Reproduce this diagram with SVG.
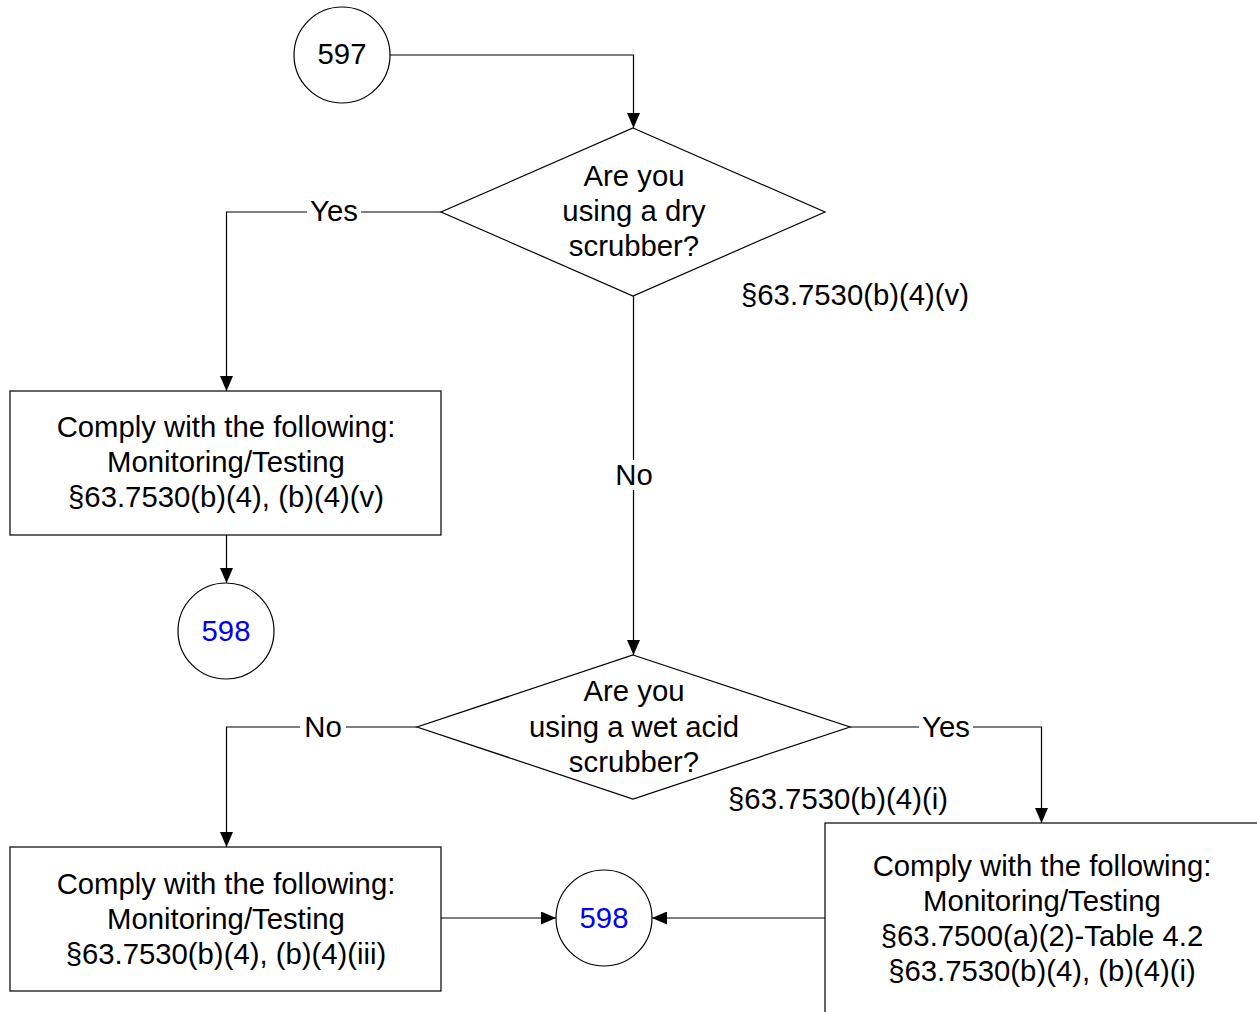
<svg xmlns="http://www.w3.org/2000/svg" width="1257" height="1012" viewBox="0 0 1257 1012">
<defs>
<style>
text{font-family:"Liberation Sans",Arial,sans-serif;font-size:29.3px;fill:#000;text-anchor:middle}
.ref{fill:#0000ff}
.shape{fill:#fff;stroke:#000;stroke-width:1.2}
.conn{fill:none;stroke:#000;stroke-width:1.2}
.lbg{fill:#fff;stroke:none}
</style>
<marker id="arr" viewBox="0 0 15 13" refX="15" refY="6.5" markerWidth="15" markerHeight="13" markerUnits="userSpaceOnUse" orient="auto">
<path d="M0,0 L15,6.5 L0,13 Z" fill="#000"/>
</marker>
</defs>
<rect width="1257" height="1012" fill="#fff"/>
<g id="connectors">
<path class="conn" d="M390,55 H633.5 V128" marker-end="url(#arr)"/>
<path class="conn" d="M441,212 H226.5 V391" marker-end="url(#arr)"/>
<path class="conn" d="M633.5,296 V655" marker-end="url(#arr)"/>
<path class="conn" d="M226.5,535 V583" marker-end="url(#arr)"/>
<path class="conn" d="M417,727 H226.5 V847" marker-end="url(#arr)"/>
<path class="conn" d="M850,727 H1041.5 V823" marker-end="url(#arr)"/>
<path class="conn" d="M441,918 H556" marker-end="url(#arr)"/>
<path class="conn" d="M825,918 H652" marker-end="url(#arr)"/>
<rect class="lbg" x="307" y="198" width="54" height="28"/>
<text x="334" y="221">Yes</text>
<rect class="lbg" x="611" y="460" width="46" height="30"/>
<text x="634" y="485">No</text>
<rect class="lbg" x="300" y="713" width="46" height="28"/>
<text x="323" y="737">No</text>
<rect class="lbg" x="919" y="713" width="54" height="28"/>
<text x="946" y="737">Yes</text>
</g>
<g id="n597">
<circle class="shape" cx="342" cy="55" r="48"/>
<text x="342" y="64">597</text>
</g>
<g id="d1">
<polygon class="shape" points="633,128 825,212 633,296 441,212"/>
<text x="634" y="186">Are you</text>
<text x="634" y="221">using a dry</text>
<text x="634" y="256">scrubber?</text>
<text x="855" y="305">§63.7530(b)(4)(v)</text>
</g>
<g id="b1">
<rect class="shape" x="10" y="391" width="431" height="144"/>
<text x="226" y="437">Comply with the following:</text>
<text x="226" y="472">Monitoring/Testing</text>
<text x="226" y="507">§63.7530(b)(4), (b)(4)(v)</text>
</g>
<g id="c598a">
<circle class="shape" cx="226" cy="631" r="48"/>
<text class="ref" x="226" y="641">598</text>
</g>
<g id="d2">
<polygon class="shape" points="633,655 850,727 633,799 417,727"/>
<text x="634" y="701">Are you</text>
<text x="634" y="737">using a wet acid</text>
<text x="634" y="772">scrubber?</text>
<text x="838" y="809">§63.7530(b)(4)(i)</text>
</g>
<g id="b2">
<rect class="shape" x="10" y="847" width="431" height="144"/>
<text x="226" y="894">Comply with the following:</text>
<text x="226" y="929">Monitoring/Testing</text>
<text x="226" y="964">§63.7530(b)(4), (b)(4)(iii)</text>
</g>
<g id="c598b">
<circle class="shape" cx="604" cy="918" r="48"/>
<text class="ref" x="604" y="928">598</text>
</g>
<g id="b3">
<rect class="shape" x="825" y="823" width="434" height="192"/>
<text x="1042" y="876">Comply with the following:</text>
<text x="1042" y="911">Monitoring/Testing</text>
<text x="1042" y="946">§63.7500(a)(2)-Table 4.2</text>
<text x="1042" y="981">§63.7530(b)(4), (b)(4)(i)</text>
</g>
</svg>
